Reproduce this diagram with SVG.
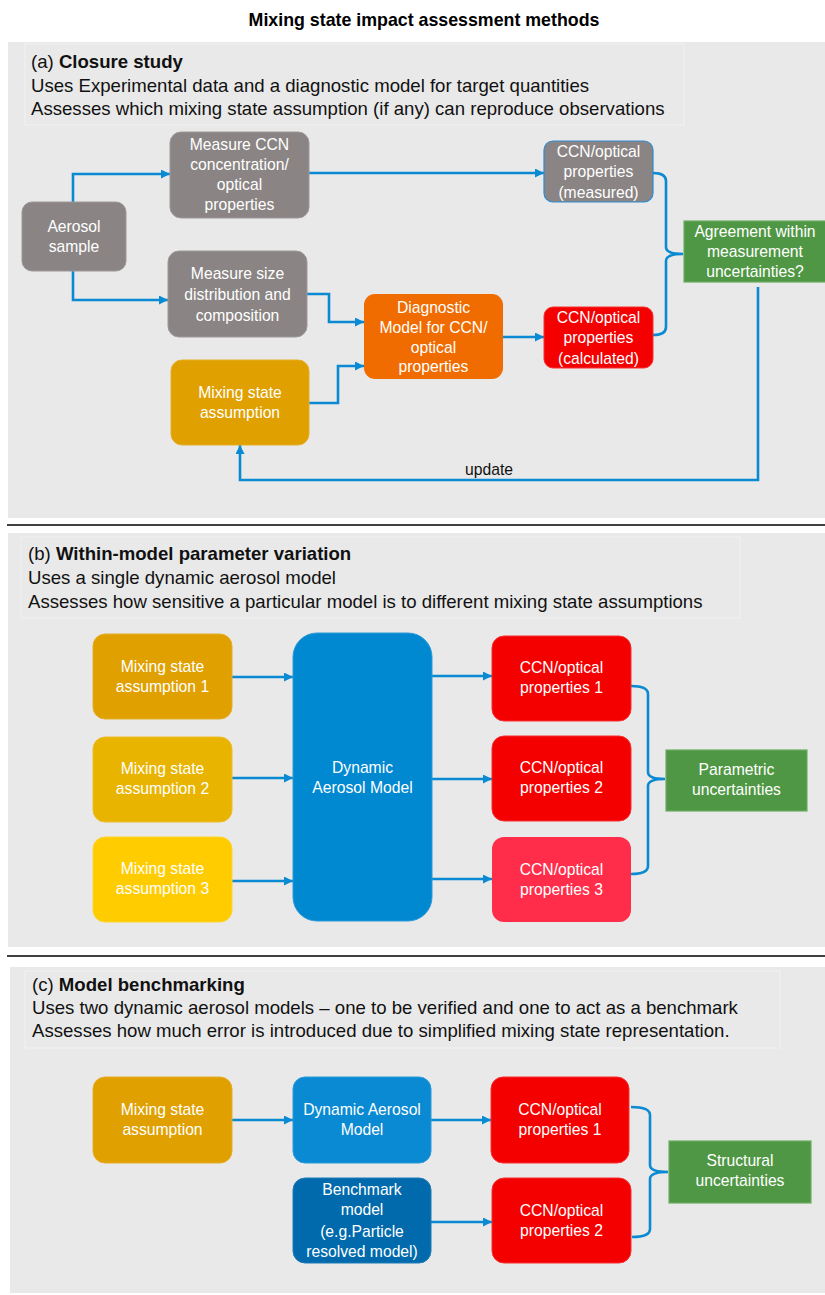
<svg xmlns="http://www.w3.org/2000/svg" width="825" height="1295" viewBox="0 0 825 1295">
<style>
.panel{fill:#E9E9E9}
.hdrbox{fill:none;stroke:#F1F1F1;stroke-width:1}
.sep{stroke:#000;stroke-width:1.6}
.ttl{font-family:"Liberation Sans",Arial,sans-serif;font-size:17.8px;font-weight:bold;fill:#000}
.hd{font-family:"Liberation Sans",Arial,sans-serif;font-size:18.6px;fill:#111}
.hd tspan.b{font-weight:bold}
.bt{font-family:"Liberation Sans",Arial,sans-serif;font-size:15.7px;fill:#fff;text-anchor:middle}
.lbl{font-family:"Liberation Sans",Arial,sans-serif;font-size:15.7px;fill:#111}
.grey{fill:#8A8584;stroke:#9E9998;stroke-width:1}
.gold1{fill:#E0A000;stroke:#E6AE2A;stroke-width:1}
.gold2{fill:#E8B400;stroke:#EDBE2A;stroke-width:1}
.gold3{fill:#FFCC00;stroke:#FFD42A;stroke-width:1}
.orange{fill:#F06C00}
.red{fill:#F50000;stroke:#F73030;stroke-width:1}
.red3{fill:#FF2D4A}
.blue{fill:#0A8AD2;stroke:#2B9AD8;stroke-width:1}
.dblue{fill:#006AAD;stroke:#1E7CBA;stroke-width:1}
.green{fill:#4F9744;stroke:#6DAE63;stroke-width:1.2}
.conn path{fill:none;stroke:#0A8AD2;stroke-width:2.6}
.arr{marker-end:url(#ah)}
</style>
<defs>
<marker id="ah" viewBox="0 0 10 10" refX="10" refY="5" markerWidth="10" markerHeight="9" markerUnits="userSpaceOnUse" orient="auto">
<path d="M0,0 L10,5 L0,10 z" fill="#0A8AD2"/>
</marker>
</defs>
<rect width="825" height="1295" fill="#fff"/>

<text class="ttl" x="424" y="26" text-anchor="middle">Mixing state impact assessment methods</text>

<!-- Panel backgrounds -->
<rect class="panel" x="8" y="42" width="817" height="476"/>
<line class="sep" x1="7" y1="525" x2="825" y2="525"/>
<rect class="panel" x="8" y="533" width="817" height="414"/>
<line class="sep" x1="7" y1="956" x2="825" y2="956"/>
<rect class="panel" x="10" y="967" width="815" height="326"/>

<!-- Header text boxes -->
<g id="header-a">
<rect class="hdrbox" x="25" y="44" width="659" height="81"/>
<text class="hd" x="31" y="68">(a) <tspan class="b">Closure study</tspan></text>
<text class="hd" x="31" y="92">Uses Experimental data and a diagnostic model for target quantities</text>
<text class="hd" x="31" y="115">Assesses which mixing state assumption (if any) can reproduce observations</text>
</g>
<g id="header-b">
<rect class="hdrbox" x="21" y="537" width="719" height="81"/>
<text class="hd" x="28" y="560">(b) <tspan class="b">Within-model parameter variation</tspan></text>
<text class="hd" x="28" y="584">Uses a single dynamic aerosol model</text>
<text class="hd" x="28" y="608">Assesses how sensitive a particular model is to different mixing state assumptions</text>
</g>
<g id="header-c">
<rect class="hdrbox" x="25" y="971" width="755" height="77"/>
<text class="hd" x="32" y="991">(c) <tspan class="b">Model benchmarking</tspan></text>
<text class="hd" x="32" y="1014">Uses two dynamic aerosol models – one to be verified and one to act as a benchmark</text>
<text class="hd" x="32" y="1037">Assesses how much error is introduced due to simplified mixing state representation.</text>
</g>

<!-- Connectors -->
<g id="connectors" class="conn">
<path class="arr" d="M73,202 V174 H170"/>
<path class="arr" d="M73,271 V300 H168"/>
<path class="arr" d="M309,173 H544"/>
<path class="arr" d="M307,294 H329 V322 H364"/>
<path class="arr" d="M309,403 H338 V366 H364"/>
<path class="arr" d="M503,337 H544"/>
<path d="M653,173 Q666,173 666,181 V247 Q666,254 683,254 Q666,254 666,261 V327 Q666,335 653,335"/>
<path class="arr" d="M758,287 V480 H240 V445"/>

<path class="arr" d="M232,677 H293"/>
<path class="arr" d="M232,778 H293"/>
<path class="arr" d="M232,881 H293"/>
<path class="arr" d="M432,676 H492"/>
<path class="arr" d="M432,779 H492"/>
<path class="arr" d="M432,879 H492"/>
<path d="M631,686 Q648,686 648,694 V772 Q648,779 665,779 Q648,779 648,786 V866 Q648,874 631,874"/>

<path class="arr" d="M232,1120 H293"/>
<path class="arr" d="M431,1120 H491"/>
<path class="arr" d="M431,1222 H492"/>
<path d="M631,1107 Q650,1107 650,1115 V1165 Q650,1172 668,1172 Q650,1172 650,1179 V1229 Q650,1237 632,1237"/>
</g>
<text class="lbl" x="489" y="475" text-anchor="middle">update</text>

<!-- Panel (a) nodes -->
<g id="aerosol-sample">
<rect class="grey" x="22" y="202" width="104" height="69" rx="10"/>
<text class="bt" x="74" y="232">Aerosol</text>
<text class="bt" x="74" y="252">sample</text>
</g>
<g id="measure-ccn">
<rect class="grey" x="170" y="132" width="139" height="86" rx="11"/>
<text class="bt" x="239.5" y="150">Measure CCN</text>
<text class="bt" x="239.5" y="170">concentration/</text>
<text class="bt" x="239.5" y="190">optical</text>
<text class="bt" x="239.5" y="210">properties</text>
</g>
<g id="measure-size">
<rect class="grey" x="168" y="251" width="139" height="86" rx="11"/>
<text class="bt" x="237.5" y="279">Measure size</text>
<text class="bt" x="237.5" y="300">distribution and</text>
<text class="bt" x="237.5" y="321">composition</text>
</g>
<g id="mixing-a">
<rect class="gold1" x="171" y="360" width="138" height="85" rx="11"/>
<text class="bt" x="240" y="398">Mixing state</text>
<text class="bt" x="240" y="418">assumption</text>
</g>
<g id="diagnostic-model">
<rect class="orange" x="364" y="294" width="139" height="85" rx="11"/>
<text class="bt" x="433.5" y="313">Diagnostic</text>
<text class="bt" x="433.5" y="333">Model for CCN/</text>
<text class="bt" x="433.5" y="353">optical</text>
<text class="bt" x="433.5" y="372">properties</text>
</g>
<g id="ccn-measured">
<rect x="544" y="141" width="109" height="61" rx="9" fill="#8A8584" stroke="#2E8BD0" stroke-width="1.2"/>
<text class="bt" x="598.5" y="157">CCN/optical</text>
<text class="bt" x="598.5" y="177">properties</text>
<text class="bt" x="598.5" y="198">(measured)</text>
</g>
<g id="ccn-calculated">
<rect class="red" x="544" y="307" width="109" height="61" rx="9"/>
<text class="bt" x="598.5" y="323">CCN/optical</text>
<text class="bt" x="598.5" y="343">properties</text>
<text class="bt" x="598.5" y="364">(calculated)</text>
</g>
<g id="agreement">
<rect class="green" x="684" y="221" width="142" height="61"/>
<text class="bt" x="755" y="237">Agreement within</text>
<text class="bt" x="755" y="257">measurement</text>
<text class="bt" x="755" y="277">uncertainties?</text>
</g>

<!-- Panel (b) nodes -->
<g id="mixing-b1">
<rect class="gold1" x="93" y="634" width="139" height="85" rx="12"/>
<text class="bt" x="162.5" y="672">Mixing state</text>
<text class="bt" x="162.5" y="692">assumption 1</text>
</g>
<g id="mixing-b2">
<rect class="gold2" x="93" y="737" width="139" height="85" rx="12"/>
<text class="bt" x="162.5" y="774">Mixing state</text>
<text class="bt" x="162.5" y="794">assumption 2</text>
</g>
<g id="mixing-b3">
<rect class="gold3" x="93" y="837" width="139" height="85" rx="12"/>
<text class="bt" x="162.5" y="874">Mixing state</text>
<text class="bt" x="162.5" y="894">assumption 3</text>
</g>
<g id="dynamic-model-b">
<rect x="293" y="633" width="139" height="288" rx="24" fill="#0088D1" stroke="#2B9AD8" stroke-width="1"/>
<text class="bt" x="362.5" y="773">Dynamic</text>
<text class="bt" x="362.5" y="793">Aerosol Model</text>
</g>
<g id="ccn-b1">
<rect class="red" x="492" y="636" width="139" height="85" rx="12"/>
<text class="bt" x="561.5" y="673">CCN/optical</text>
<text class="bt" x="561.5" y="693">properties 1</text>
</g>
<g id="ccn-b2">
<rect class="red" x="492" y="736" width="139" height="85" rx="12"/>
<text class="bt" x="561.5" y="773">CCN/optical</text>
<text class="bt" x="561.5" y="793">properties 2</text>
</g>
<g id="ccn-b3">
<rect class="red3" x="492" y="837" width="139" height="85" rx="12"/>
<text class="bt" x="561.5" y="875">CCN/optical</text>
<text class="bt" x="561.5" y="895">properties 3</text>
</g>
<g id="parametric">
<rect class="green" x="666" y="750" width="141" height="61"/>
<text class="bt" x="736.5" y="775">Parametric</text>
<text class="bt" x="736.5" y="795">uncertainties</text>
</g>

<!-- Panel (c) nodes -->
<g id="mixing-c">
<rect class="gold1" x="93" y="1077" width="139" height="86" rx="12"/>
<text class="bt" x="162.5" y="1115">Mixing state</text>
<text class="bt" x="162.5" y="1135">assumption</text>
</g>
<g id="dynamic-model-c">
<rect class="blue" x="293" y="1077" width="138" height="86" rx="12"/>
<text class="bt" x="362" y="1115">Dynamic Aerosol</text>
<text class="bt" x="362" y="1135">Model</text>
</g>
<g id="benchmark-model">
<rect class="dblue" x="293" y="1178" width="138" height="85" rx="12"/>
<text class="bt" x="362" y="1195">Benchmark</text>
<text class="bt" x="362" y="1215">model</text>
<text class="bt" x="362" y="1237">(e.g.Particle</text>
<text class="bt" x="362" y="1257">resolved model)</text>
</g>
<g id="ccn-c1">
<rect class="red" x="491" y="1077" width="138" height="86" rx="12"/>
<text class="bt" x="560" y="1115">CCN/optical</text>
<text class="bt" x="560" y="1135">properties 1</text>
</g>
<g id="ccn-c2">
<rect class="red" x="492" y="1178" width="139" height="85" rx="12"/>
<text class="bt" x="561.5" y="1216">CCN/optical</text>
<text class="bt" x="561.5" y="1236">properties 2</text>
</g>
<g id="structural">
<rect class="green" x="669" y="1141" width="142" height="62"/>
<text class="bt" x="740" y="1166">Structural</text>
<text class="bt" x="740" y="1186">uncertainties</text>
</g>
</svg>
